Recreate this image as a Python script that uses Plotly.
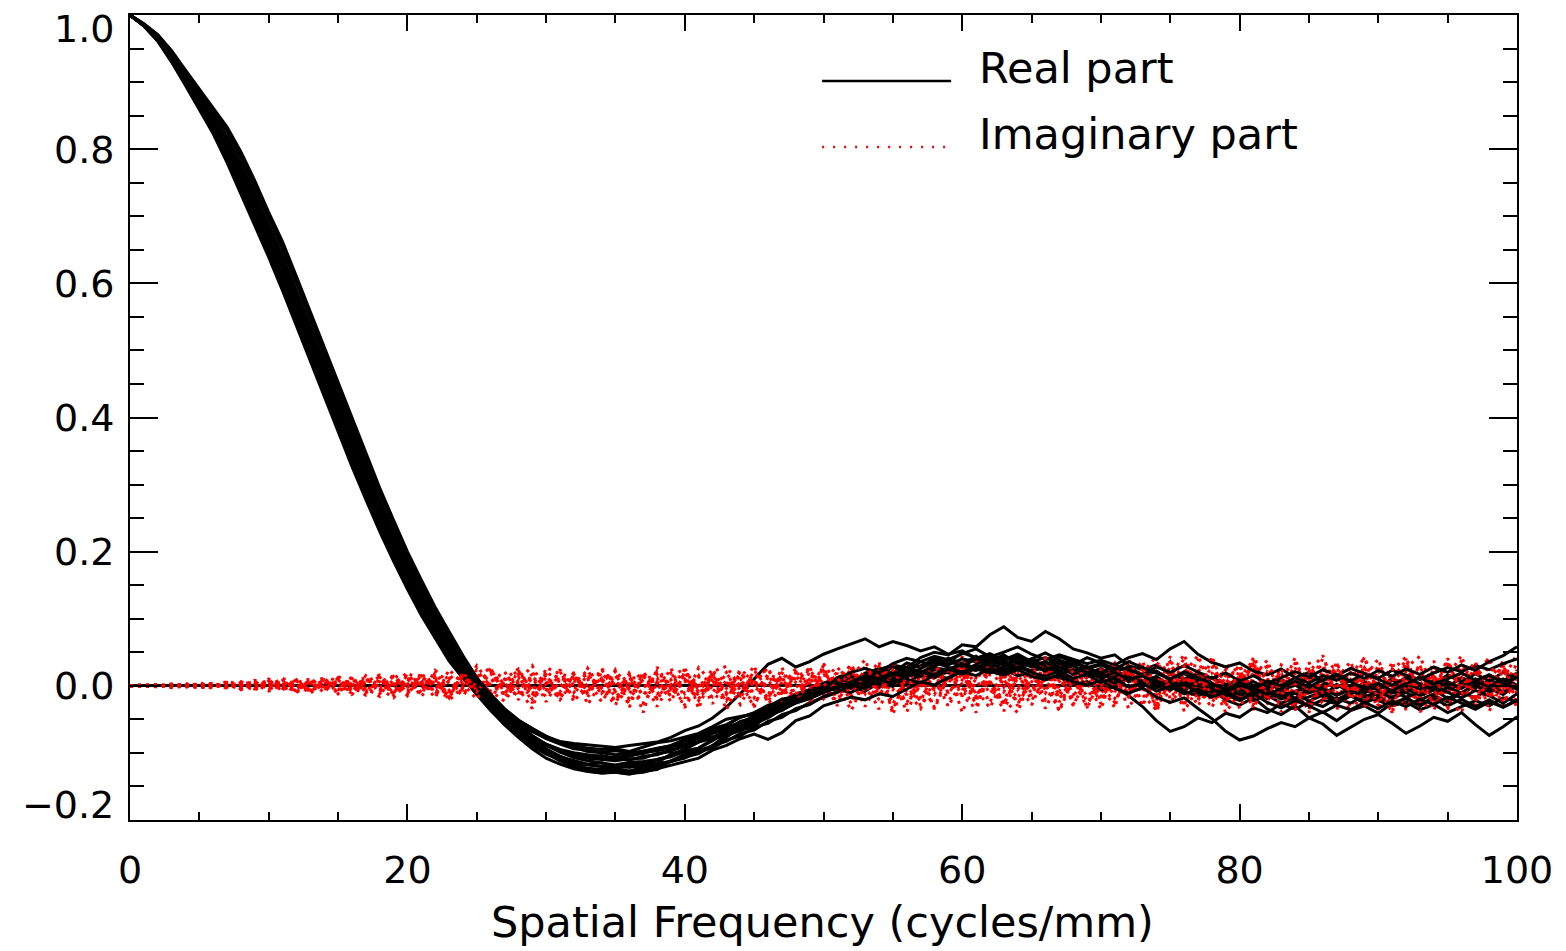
import plotly.graph_objects as go

# Spatial frequency axis (cycles/mm)
freq = list(range(0, 101))

# Real part of the MTF, several realisations
real_1 = [1.000,0.984,0.961,0.930,0.895,0.860,0.823,0.780,0.733,0.687,0.639,0.589,0.536,0.483,0.431,0.379,0.327,0.278,0.230,0.186,0.144,0.105,0.070,0.037,0.011,-0.012,-0.031,-0.046,-0.058,-0.068,-0.076,
          -0.083,-0.086,-0.088,-0.090,-0.092,-0.089,-0.087,-0.084,-0.077,-0.067,-0.060,
          -0.048,-0.032,-0.012,0.010,0.032,0.041,0.028,0.036,0.047,
          0.055,0.062,0.070,0.058,0.066,0.060,0.052,0.058,0.047,0.052,0.041,0.048,0.038,0.044,0.030,0.036,0.025,0.030,0.018,0.024,0.012,0.017,0.004,0.010,-0.004,0.002,-0.010,-0.004,-0.016,-0.010,-0.022,-0.014,-0.026,-0.018,-0.030,-0.021,-0.027,-0.015,-0.022,-0.010,-0.017,-0.006,-0.012,0.000,-0.008,0.004,-0.003,0.008,0.002,0.012]
real_2 = [1.000,0.984,0.962,0.932,0.899,0.865,0.829,0.788,0.742,0.696,0.649,0.599,0.547,0.494,0.441,0.389,0.338,0.287,0.240,0.194,0.152,0.113,0.076,0.044,0.013,-0.013,-0.037,-0.058,-0.075,-0.090,-0.102,
          -0.110,-0.116,-0.118,-0.120,-0.119,-0.122,-0.117,-0.115,-0.102,-0.095,-0.084,-0.078,-0.072,-0.058,-0.044,-0.038,-0.033,-0.018,-0.012,0.000,
          0.000,0.012,0.009,0.024,0.031,0.027,0.042,0.050,0.046,0.061,0.058,0.076,0.088,0.072,0.066,0.081,0.070,0.055,0.049,0.041,0.046,0.030,0.024,0.031,0.017,0.010,0.019,0.004,-0.006,0.002,-0.011,-0.004,-0.017,-0.009,-0.002,-0.013,-0.021,-0.010,0.001,-0.006,0.008,-0.002,-0.012,-0.005,0.006,-0.003,0.010,0.002,-0.009,-0.001]
real_3 = [1.000,0.984,0.963,0.934,0.901,0.868,0.833,0.794,0.749,0.703,0.656,0.607,0.555,0.502,0.449,0.397,0.345,0.295,0.247,0.201,0.158,0.119,0.082,0.048,0.019,-0.007,-0.029,-0.048,-0.063,-0.076,-0.087,
          -0.095,-0.100,-0.103,-0.105,-0.108,-0.105,-0.100,-0.097,-0.093,-0.080,-0.075,-0.069,-0.059,-0.047,-0.042,-0.036,-0.025,-0.013,-0.008,0.003,
          0.010,0.004,0.019,0.015,0.028,0.022,0.036,0.029,0.041,0.033,0.044,0.030,0.038,0.026,0.035,0.021,0.031,0.019,0.027,0.012,0.020,0.006,0.015,-0.002,0.009,-0.006,0.005,-0.011,0.000,-0.014,-0.003,-0.018,-0.006,-0.019,-0.005,-0.016,0.002,-0.010,0.006,-0.004,0.011,-0.001,0.014,0.003,0.016,0.005,0.018,0.007,0.020,0.011]
real_4 = [1.000,0.985,0.964,0.936,0.903,0.871,0.837,0.799,0.756,0.710,0.663,0.615,0.563,0.510,0.457,0.405,0.353,0.302,0.253,0.208,0.164,0.124,0.087,0.053,0.020,-0.008,-0.034,-0.058,-0.077,-0.094,-0.108,
          -0.117,-0.124,-0.128,-0.130,-0.129,-0.132,-0.127,-0.125,-0.112,-0.107,-0.101,-0.089,-0.074,-0.067,-0.060,-0.045,-0.031,-0.023,-0.015,-0.004,
          -0.006,-0.010,0.002,-0.003,0.009,0.004,0.016,0.012,0.021,0.017,0.026,0.020,0.024,0.015,0.019,0.009,0.013,0.001,0.006,-0.006,-0.002,-0.015,-0.031,-0.052,-0.068,-0.061,-0.048,-0.055,-0.041,-0.047,-0.033,-0.040,-0.027,-0.035,-0.024,-0.031,-0.019,-0.026,-0.014,-0.022,-0.030,-0.024,-0.036,-0.028,-0.040,-0.031,-0.022,-0.030,-0.018,-0.024]
real_5 = [1.000,0.985,0.965,0.937,0.905,0.873,0.840,0.803,0.760,0.715,0.668,0.620,0.568,0.515,0.462,0.410,0.358,0.307,0.258,0.212,0.168,0.128,0.090,0.056,0.025,-0.002,-0.025,-0.046,-0.063,-0.077,-0.089,
          -0.098,-0.104,-0.108,-0.110,-0.112,-0.109,-0.108,-0.101,-0.098,-0.087,-0.083,-0.071,-0.066,-0.053,-0.048,-0.035,-0.030,-0.017,-0.012,0.001,
          0.008,0.015,0.012,0.020,0.029,0.024,0.030,0.038,0.031,0.040,0.036,0.045,0.039,0.047,0.036,0.042,0.033,0.038,0.026,0.031,0.022,0.027,0.016,0.021,0.010,0.018,0.007,0.013,0.002,0.009,-0.004,0.005,-0.007,0.001,-0.011,-0.003,-0.014,-0.006,-0.017,-0.008,-0.019,-0.010,-0.021,-0.012,-0.002,-0.011,0.000,-0.009,0.003,-0.005]
real_6 = [1.000,0.985,0.966,0.938,0.907,0.875,0.843,0.807,0.765,0.720,0.673,0.625,0.573,0.520,0.467,0.415,0.363,0.312,0.263,0.216,0.172,0.132,0.093,0.059,0.029,0.003,-0.018,-0.037,-0.052,-0.064,-0.075,
          -0.084,-0.089,-0.093,-0.095,-0.094,-0.098,-0.092,-0.085,-0.082,-0.076,-0.071,-0.061,-0.050,-0.046,-0.042,-0.031,-0.020,-0.016,-0.006,-0.001,
          0.002,-0.004,0.006,0.012,0.007,0.018,0.014,0.024,0.019,0.028,0.023,0.031,0.025,0.030,0.022,0.027,0.018,0.023,0.013,0.019,0.007,0.013,0.001,0.008,-0.005,0.002,-0.010,-0.002,-0.013,-0.005,-0.016,-0.009,-0.020,-0.011,-0.023,-0.014,-0.025,-0.015,-0.026,-0.017,-0.028,-0.018,-0.029,-0.019,-0.030,-0.020,-0.031,-0.021,-0.032,-0.022]
real_7 = [1.000,0.986,0.967,0.940,0.909,0.878,0.847,0.813,0.771,0.727,0.680,0.633,0.581,0.528,0.475,0.423,0.371,0.319,0.270,0.223,0.178,0.138,0.099,0.064,0.030,0.001,-0.025,-0.049,-0.070,-0.086,-0.100,
          -0.111,-0.118,-0.123,-0.125,-0.124,-0.127,-0.122,-0.119,-0.112,-0.102,-0.096,-0.090,-0.077,-0.062,-0.056,-0.048,-0.035,-0.021,-0.014,-0.007,
          0.012,0.020,0.026,0.019,0.033,0.041,0.036,0.044,0.039,0.048,0.055,0.043,0.050,0.058,0.047,0.039,0.046,0.040,0.033,0.038,0.031,0.042,0.048,0.039,0.055,0.066,0.047,0.035,0.028,0.034,0.022,0.016,0.025,0.012,0.020,0.008,0.015,0.026,0.018,0.011,0.023,0.016,0.009,0.019,0.027,0.021,0.030,0.024,0.033,0.040]
real_8 = [1.000,0.986,0.968,0.942,0.911,0.881,0.851,0.818,0.778,0.734,0.687,0.641,0.589,0.536,0.483,0.431,0.378,0.327,0.276,0.230,0.184,0.143,0.104,0.068,0.037,0.009,-0.013,-0.034,-0.051,-0.064,-0.076,
          -0.086,-0.092,-0.098,-0.100,-0.103,-0.101,-0.097,-0.094,-0.091,-0.087,-0.077,-0.066,-0.061,-0.056,-0.045,-0.034,-0.029,-0.024,-0.013,-0.003,
          -0.004,0.006,0.001,0.011,0.018,0.013,0.022,0.017,0.025,0.019,0.028,0.021,0.016,0.024,0.014,0.009,0.017,0.006,0.001,0.008,-0.004,-0.011,-0.003,-0.017,-0.025,-0.018,-0.034,-0.049,-0.068,-0.081,-0.075,-0.064,-0.055,-0.061,-0.048,-0.057,-0.074,-0.062,-0.050,-0.043,-0.056,-0.071,-0.060,-0.047,-0.053,-0.040,-0.058,-0.074,-0.061,-0.046]
real_9 = [1.000,0.986,0.969,0.944,0.915,0.886,0.857,0.826,0.787,0.743,0.697,0.651,0.600,0.547,0.493,0.441,0.389,0.336,0.286,0.238,0.192,0.151,0.110,0.075,0.041,0.011,-0.014,-0.038,-0.058,-0.074,-0.088,
          -0.099,-0.107,-0.112,-0.115,-0.118,-0.114,-0.113,-0.110,-0.104,-0.099,-0.093,-0.082,-0.069,-0.063,-0.057,-0.044,-0.031,-0.025,-0.018,-0.007,
          -0.002,0.004,0.014,0.008,0.017,0.027,0.020,0.030,0.037,0.029,0.040,0.034,0.043,0.036,0.028,0.035,0.024,0.030,0.019,0.012,0.020,0.009,0.015,0.003,-0.006,0.002,-0.009,-0.017,-0.008,-0.020,-0.012,-0.025,-0.033,-0.022,-0.030,-0.040,-0.029,-0.036,-0.025,-0.034,-0.023,-0.031,-0.020,-0.028,-0.017,-0.026,-0.035,-0.024,-0.032,-0.021]
real_10 = [1.000,0.987,0.971,0.947,0.918,0.890,0.862,0.833,0.796,0.753,0.706,0.662,0.610,0.557,0.504,0.452,0.399,0.346,0.295,0.247,0.200,0.158,0.117,0.081,0.045,0.012,-0.015,-0.042,-0.065,-0.083,-0.100,
           -0.112,-0.121,-0.127,-0.130,-0.129,-0.131,-0.129,-0.124,-0.118,-0.114,-0.108,-0.096,-0.089,
           -0.079,-0.072,-0.080,-0.070,-0.052,-0.045,-0.030,
           -0.024,-0.017,-0.021,-0.012,-0.016,-0.005,0.006,0.001,0.012,0.021,0.015,0.026,0.019,0.028,0.020,0.014,0.022,0.011,0.017,0.005,0.011,-0.002,0.004,-0.008,-0.001,-0.012,-0.005,-0.016,-0.010,0.001,-0.006,0.007,0.000,0.012,0.004,0.015,0.008,0.019,0.011,0.023,0.014,0.025,0.017,0.028,0.020,0.031,0.023,0.036,0.045,0.058]
real_11 = [1.000,0.984,0.962,0.931,0.897,0.862,0.826,0.784,0.738,0.692,0.644,0.594,0.542,0.489,0.436,0.384,0.333,0.283,0.235,0.190,0.148,0.109,0.073,0.041,0.012,-0.012,-0.034,-0.052,-0.066,-0.079,-0.089,
           -0.097,-0.102,-0.106,-0.104,-0.108,-0.103,-0.101,-0.094,-0.089,-0.080,-0.075,-0.064,-0.058,-0.047,-0.040,-0.029,-0.024,-0.012,-0.006,0.004,
           0.011,0.003,0.018,0.026,0.019,0.034,0.028,0.041,0.035,0.049,0.042,0.037,0.046,0.033,0.040,0.027,0.034,0.022,0.029,0.016,0.024,0.011,0.002,0.009,-0.004,0.005,-0.013,-0.006,-0.021,-0.029,-0.018,-0.035,-0.043,-0.030,-0.048,-0.039,-0.052,-0.037,-0.030,-0.041,-0.026,-0.019,-0.031,-0.015,-0.024,-0.010,-0.018,-0.004,-0.013,0.002]
real_12 = [1.000,0.985,0.964,0.935,0.902,0.870,0.835,0.797,0.753,0.707,0.660,0.611,0.559,0.506,0.453,0.401,0.349,0.299,0.250,0.205,0.161,0.122,0.085,0.051,0.020,-0.008,-0.032,-0.053,-0.070,-0.085,-0.098,
           -0.106,-0.112,-0.117,-0.115,-0.121,-0.116,-0.118,-0.110,-0.106,-0.097,-0.093,-0.080,-0.074,-0.063,-0.055,-0.043,-0.037,-0.024,-0.016,-0.008,
           -0.001,0.007,0.003,0.014,0.010,0.022,0.016,0.027,0.023,0.034,0.026,0.038,0.031,0.042,0.035,0.029,0.037,0.024,0.018,0.026,0.013,0.020,0.007,0.014,0.000,0.008,-0.005,0.003,-0.009,-0.002,0.006,-0.004,0.009,0.001,0.013,0.005,-0.003,0.008,-0.007,0.004,-0.011,-0.002,-0.015,-0.006,-0.019,-0.010,0.001,-0.008,0.005,-0.003]
real_13 = [1.000,0.985,0.966,0.938,0.906,0.874,0.842,0.805,0.763,0.718,0.671,0.623,0.571,0.518,0.465,0.413,0.361,0.310,0.261,0.214,0.170,0.130,0.092,0.058,0.026,-0.002,-0.027,-0.050,-0.070,-0.086,-0.101,
           -0.111,-0.119,-0.124,-0.127,-0.125,-0.128,-0.124,-0.120,-0.113,-0.108,-0.098,-0.093,-0.081,-0.075,-0.062,-0.056,-0.043,-0.037,-0.025,-0.018,
           -0.010,-0.002,-0.008,0.004,-0.001,0.010,0.004,0.016,0.011,0.022,0.030,0.024,0.035,0.029,0.038,0.031,0.043,0.036,0.027,0.033,0.021,0.028,0.015,0.022,0.008,-0.001,0.007,-0.009,-0.003,-0.014,-0.007,-0.019,-0.012,-0.024,-0.016,-0.009,-0.021,-0.013,-0.004,-0.015,-0.007,0.003,-0.005,0.008,-0.001,0.012,0.004,0.016,0.007,0.019]
real_14 = [1.000,0.986,0.968,0.941,0.910,0.880,0.849,0.816,0.775,0.731,0.684,0.637,0.585,0.532,0.479,0.427,0.375,0.323,0.273,0.227,0.181,0.141,0.102,0.066,0.034,0.006,-0.017,-0.038,-0.055,-0.068,-0.079,
           -0.087,-0.094,-0.096,-0.099,-0.097,-0.100,-0.098,-0.093,-0.090,-0.082,-0.079,-0.070,-0.064,-0.055,-0.050,-0.040,-0.033,-0.025,-0.019,-0.010,
           -0.003,0.006,0.015,0.010,0.021,0.014,0.026,0.035,0.028,0.020,0.032,0.041,0.033,0.025,0.037,0.030,0.022,0.034,0.027,0.019,0.031,0.024,0.016,0.028,0.020,0.030,0.021,0.011,0.019,0.007,0.015,0.004,0.012,0.021,0.013,0.024,0.016,0.007,0.018,0.010,0.001,0.012,0.003,-0.006,0.005,-0.004,0.007,-0.002,0.010,0.001]
real_15 = [1.000,0.987,0.970,0.946,0.917,0.888,0.860,0.830,0.792,0.748,0.702,0.657,0.605,0.552,0.499,0.447,0.394,0.341,0.291,0.243,0.196,0.155,0.114,0.078,0.043,0.012,-0.015,-0.040,-0.062,-0.079,-0.094,
           -0.105,-0.113,-0.118,-0.121,-0.123,-0.120,-0.122,-0.116,-0.113,-0.104,-0.100,-0.089,-0.083,-0.071,-0.066,-0.053,-0.047,-0.034,-0.028,-0.016,
           -0.009,0.001,-0.004,0.009,0.003,0.015,0.022,0.013,0.025,0.032,0.024,0.036,0.044,0.033,0.040,0.049,0.038,0.031,0.042,0.034,0.025,0.036,0.027,0.018,0.010,0.021,0.012,0.004,-0.006,0.005,-0.003,-0.013,-0.004,0.007,-0.002,0.009,0.017,0.006,-0.005,0.004,-0.008,0.003,0.012,0.002,0.010,0.019,0.008,0.016,0.004,0.013]
real_16 = [1.000,0.986,0.967,0.939,0.908,0.877,0.845,0.810,0.768,0.724,0.677,0.629,0.577,0.524,0.471,0.419,0.367,0.316,0.267,0.220,0.175,0.135,0.096,0.062,0.030,0.002,-0.022,-0.043,-0.061,-0.075,-0.087,
           -0.096,-0.101,-0.106,-0.109,-0.107,-0.111,-0.105,-0.103,-0.096,-0.091,-0.084,-0.076,-0.069,-0.058,-0.053,-0.041,-0.036,-0.026,-0.019,-0.010,
           0.004,-0.002,0.009,0.017,0.011,0.023,0.018,0.012,0.024,0.031,0.025,0.019,0.029,0.038,0.030,0.022,0.028,0.017,0.023,0.011,0.004,0.013,0.006,-0.003,0.005,-0.008,-0.015,-0.006,-0.013,-0.022,-0.012,-0.005,-0.016,-0.009,0.002,-0.007,-0.014,-0.004,-0.011,0.000,-0.008,-0.017,-0.009,-0.001,-0.010,-0.018,-0.007,-0.015,-0.026,-0.012]

# Imaginary part, several realisations
imag_1 = [0,0.001,-0.001,0.002,-0.002,0.003,-0.002,0.004,-0.003,0.005,-0.004,0.006,-0.005,0.008,-0.006,0.010,-0.007,0.012,-0.006,0.014,-0.008,0.015,-0.004,0.011,-0.012,0.009,0.018,-0.006,0.013,-0.015,0.004,-0.021,0.008,-0.009,0.012,-0.017,0.003,-0.026,0.006,-0.011,0.010,-0.008,0.014,-0.004,0.017,0.002,-0.013,0.019,0.005,-0.009,0.016,0.008,-0.014,0.022,0.011,-0.006,0.025,-0.018,0.013,-0.031,0.009,0.024,-0.012,0.017,-0.027,0.006,0.021,-0.015,0.012,-0.004,0.027,-0.019,0.008,-0.030,0.015,0.036,-0.011,0.020,-0.025,0.004,0.031,-0.016,0.012,-0.033,0.007,0.024,-0.020,0.015,-0.008,0.029,-0.024,0.010,0.038,-0.013,0.018,-0.029,0.006,0.033,-0.017,0.021,-0.010]
imag_2 = [0,-0.001,0.001,-0.002,0.002,-0.003,0.003,-0.004,0.004,-0.004,0.005,-0.006,0.007,-0.007,0.009,-0.010,0.011,-0.009,0.013,-0.011,0.016,-0.010,0.019,-0.007,0.014,-0.013,0.006,0.021,-0.010,0.011,-0.017,0.014,-0.005,0.010,-0.024,0.007,-0.012,0.016,-0.019,0.009,-0.033,0.005,-0.010,0.018,-0.006,0.013,0.024,-0.009,0.016,-0.015,0.011,0.028,-0.004,0.018,-0.021,0.014,0.031,0.007,-0.013,0.026,-0.040,0.012,0.029,-0.009,0.019,-0.022,0.010,0.034,-0.014,0.017,-0.027,0.022,-0.006,0.030,-0.018,0.011,0.040,-0.022,0.016,-0.031,0.009,0.027,-0.012,0.020,-0.036,0.013,0.032,-0.018,0.009,-0.027,0.022,-0.005,0.017,-0.030,0.028,0.007,-0.021,0.016,0.042,-0.014,0.024]
imag_3 = [0,0.000,0.002,-0.001,0.003,-0.002,0.004,-0.003,0.005,-0.005,0.007,-0.004,0.009,-0.008,0.011,-0.006,0.013,-0.011,0.010,-0.014,0.012,-0.016,0.008,-0.012,0.022,-0.003,-0.019,0.010,0.025,-0.008,0.016,-0.012,0.020,-0.028,0.005,0.015,-0.020,0.009,0.017,-0.016,0.008,-0.022,0.011,-0.013,0.021,-0.018,0.007,-0.011,0.020,0.009,-0.019,0.014,0.030,-0.008,0.023,-0.027,0.010,0.020,-0.035,0.015,0.030,-0.016,0.008,-0.038,0.013,0.028,-0.021,0.006,0.025,-0.033,0.010,0.034,-0.015,0.019,0.044,-0.020,0.013,-0.009,0.030,-0.024,0.016,-0.036,0.021,0.005,-0.019,0.035,-0.010,0.024,-0.032,0.012,0.040,-0.022,0.008,0.030,-0.026,0.015,0.045,-0.018,0.012,0.032,-0.027]
imag_4 = [0,0.001,0.000,0.001,-0.001,0.002,-0.003,0.003,-0.004,0.006,-0.006,0.008,-0.008,0.006,-0.010,0.012,-0.009,0.015,-0.012,0.009,-0.015,0.020,-0.011,0.017,-0.006,0.024,-0.014,0.013,-0.021,0.019,0.006,-0.009,0.015,-0.017,0.020,-0.008,0.013,-0.014,0.004,0.019,-0.012,0.015,-0.027,0.009,-0.015,0.023,-0.004,0.012,-0.024,0.021,-0.007,-0.022,0.017,-0.012,0.029,0.003,-0.026,0.016,0.034,-0.011,0.020,-0.030,0.017,0.032,-0.006,0.024,-0.034,0.011,-0.019,0.030,-0.012,0.017,-0.034,0.006,0.026,-0.028,0.019,0.045,-0.006,0.024,-0.034,0.014,0.038,-0.021,0.027,-0.012,0.019,-0.037,0.030,0.002,-0.016,0.036,-0.028,0.013,-0.008,0.041,-0.015,0.011,-0.031,0.026,0.008]
imag_5 = [0,-0.001,0.001,0.000,0.002,0.001,0.003,-0.002,0.006,-0.002,0.004,-0.007,0.005,0.010,-0.004,0.008,-0.013,0.006,0.016,-0.005,0.010,-0.013,0.023,0.004,-0.015,0.012,0.027,-0.017,0.004,0.017,-0.024,0.010,0.001,0.018,-0.013,0.024,-0.006,0.008,-0.031,0.003,0.014,-0.015,0.020,-0.036,0.010,-0.011,0.017,-0.021,0.012,0.026,-0.012,0.019,-0.027,0.031,-0.015,0.022,0.002,-0.023,0.021,0.037,-0.017,0.010,-0.025,0.024,0.003,-0.029,0.018,-0.008,0.032,0.011,-0.021,0.005,0.029,-0.013,-0.036,0.022,-0.004,0.012,0.038,-0.014,0.023,-0.009,-0.026,0.031,0.016,-0.031,0.008,0.028,-0.016,0.020,-0.038,0.025,0.003,-0.019,0.037,-0.011,0.022,-0.034,0.019,-0.004,0.033]
imag_6 = [0,0.001,-0.002,0.003,-0.001,0.004,0.000,0.005,-0.005,0.003,-0.008,0.002,-0.003,0.004,0.012,-0.012,0.005,-0.004,-0.016,0.018,-0.002,0.008,-0.018,0.024,0.003,-0.020,0.010,-0.002,0.017,-0.026,0.022,0.003,-0.016,0.026,-0.004,-0.029,0.019,-0.003,0.012,-0.024,0.021,0.002,-0.017,0.006,-0.028,0.008,-0.020,0.027,-0.014,0.004,0.025,-0.010,0.009,-0.031,0.006,0.035,-0.014,0.028,-0.008,0.007,0.044,-0.006,-0.033,0.011,0.038,-0.015,0.029,-0.024,0.003,0.021,0.040,-0.009,0.019,-0.026,0.012,-0.009,-0.030,0.027,-0.018,0.034,0.006,0.031,-0.020,-0.007,0.042,-0.025,-0.003,0.011,0.036,-0.020,0.014,-0.030,0.027,0.044,-0.006,-0.036,0.029,0.004,-0.022,0.039,-0.013]
imag_7 = [0,0.000,-0.001,0.000,0.001,-0.004,0.002,0.000,0.002,-0.007,0.010,0.001,-0.010,0.002,0.006,0.003,-0.002,-0.014,0.004,0.002,0.020,0.004,-0.008,-0.017,0.008,0.005,-0.008,-0.023,0.006,0.030,-0.010,0.024,-0.024,0.004,0.009,0.021,-0.032,0.021,-0.007,0.026,-0.019,0.027,0.004,-0.023,0.007,-0.030,0.013,0.003,-0.031,0.015,0.006,-0.030,0.024,0.004,-0.035,0.011,-0.039,0.004,0.019,-0.021,-0.007,0.037,0.005,-0.022,-0.040,0.015,-0.011,0.023,-0.028,0.008,-0.035,0.026,0.012,0.037,-0.022,0.030,0.008,-0.030,0.005,-0.040,-0.010,0.019,0.029,-0.014,-0.030,0.006,0.040,0.004,-0.039,-0.008,0.030,0.012,-0.036,0.003,0.015,-0.021,-0.040,0.024,0.011,-0.028,0.016]
imag_8 = [0,0.001,0.002,-0.003,0.000,0.002,-0.004,0.007,0.001,0.008,0.000,0.011,0.002,-0.011,0.003,0.014,0.001,0.009,-0.004,-0.018,0.005,0.002,0.013,-0.022,-0.002,0.030,0.001,-0.012,-0.004,-0.034,0.027,0.018,0.012,-0.007,0.026,0.000,0.017,-0.040,0.028,-0.005,0.025,-0.034,0.021,0.029,-0.002,0.030,-0.027,-0.002,0.026,-0.030,0.033,0.002,-0.037,0.009,0.036,-0.043,0.017,-0.030,-0.002,0.029,0.002,-0.040,0.040,-0.002,0.026,0.040,0.002,-0.037,0.018,-0.016,0.003,-0.033,0.040,-0.005,-0.016,0.044,-0.038,-0.003,-0.033,0.015,-0.022,0.043,0.003,-0.039,0.003,-0.040,0.026,-0.022,0.017,0.041,0.001,-0.040,0.040,-0.039,-0.017,0.033,-0.006,0.028,-0.038,0.008,0.048]
imag_9 = [0,0.000,0.001,-0.001,0.002,-0.003,0.001,-0.002,0.005,-0.001,0.007,-0.005,0.003,-0.009,0.007,-0.003,0.010,-0.008,0.006,-0.012,0.017,-0.004,0.009,-0.015,0.013,-0.009,0.020,0.002,-0.016,0.014,-0.006,0.021,-0.010,0.016,-0.002,-0.022,0.012,-0.015,0.022,-0.004,0.007,-0.020,0.016,-0.010,0.024,0.008,-0.018,0.014,-0.025,0.010,-0.003,0.021,-0.016,0.027,-0.008,0.016,-0.028,0.005,0.033,-0.012,0.019,-0.024,0.036,0.009,-0.019,0.021,-0.006,0.031,-0.030,0.014,0.002,-0.025,0.022,-0.010,0.035,0.017,-0.027,0.009,-0.019,0.028,-0.008,0.036,-0.023,0.010,-0.030,0.020,0.045,-0.011,0.018,-0.034,0.026,-0.003,0.032,-0.026,0.009,-0.014,0.038,-0.021,0.006,0.030,-0.035]
imag_10 = [0,-0.001,0.000,0.002,-0.002,0.001,0.004,-0.003,0.002,0.006,-0.005,0.001,0.008,-0.006,-0.001,0.011,-0.007,0.004,0.013,-0.010,0.002,0.015,-0.012,0.007,-0.003,0.019,-0.014,0.006,0.023,-0.011,0.003,-0.019,0.017,-0.008,0.011,-0.025,0.006,0.019,-0.012,0.002,-0.029,0.013,-0.005,0.020,-0.017,0.009,-0.024,0.018,0.001,-0.019,0.022,-0.009,0.027,-0.021,0.012,0.034,-0.015,0.004,-0.032,0.017,0.028,-0.013,0.006,-0.026,0.033,-0.004,0.019,-0.038,0.010,0.025,-0.017,0.030,-0.008,0.015,-0.031,0.022,-0.002,0.040,-0.020,0.013,0.029,-0.033,0.008,-0.015,0.034,0.004,-0.027,0.019,-0.010,0.043,-0.024,0.014,-0.006,0.031,-0.037,0.018,0.002,-0.025,0.035,-0.011,0.021]
imag_11 = [0,0.001,-0.001,0.000,0.003,-0.001,-0.002,0.005,-0.004,0.002,0.008,-0.003,-0.007,0.009,0.001,-0.010,0.006,0.012,-0.009,0.003,-0.013,0.011,0.004,-0.017,0.015,-0.001,0.026,-0.011,0.008,-0.020,0.013,-0.004,0.018,-0.013,0.024,-0.009,-0.026,0.014,0.003,-0.015,0.019,-0.006,0.025,-0.012,0.005,-0.032,0.017,0.009,-0.014,0.028,-0.019,0.006,0.032,-0.010,0.019,-0.036,0.014,0.027,-0.006,0.024,-0.016,0.038,0.002,-0.028,0.016,-0.011,0.036,-0.020,0.012,-0.033,0.024,0.007,-0.016,0.032,-0.039,0.013,0.047,-0.012,0.020,-0.027,0.011,0.039,-0.018,0.024,-0.006,-0.035,0.016,0.034,-0.020,0.008,-0.030,0.023,0.043,-0.014,0.017,-0.032,0.010,0.036,-0.019,0.025,-0.008]
imag_12 = [0,0.000,0.001,0.001,-0.002,0.003,-0.001,0.002,-0.006,0.004,-0.002,0.007,-0.009,0.005,-0.004,0.009,-0.012,0.010,-0.003,0.014,-0.011,0.005,0.012,-0.018,0.020,-0.007,0.011,-0.014,0.022,-0.005,0.017,-0.018,0.004,0.023,-0.011,0.016,-0.003,0.019,-0.021,0.013,0.026,-0.012,0.008,-0.022,0.018,0.003,0.027,-0.016,0.021,-0.005,0.030,-0.024,0.012,0.039,-0.016,0.023,-0.008,-0.034,0.018,0.004,0.031,-0.019,0.025,0.012,-0.030,0.017,0.041,-0.005,0.023,-0.024,-0.004,0.033,-0.018,0.026,-0.035,0.008,0.029,-0.022,0.044,-0.009,0.016,-0.028,0.030,0.005,-0.037,0.021,-0.011,0.035,-0.016,0.027,-0.003,-0.040,0.022,0.009,-0.028,0.037,-0.012,0.019,0.041,-0.026,0.012]

real_curves = [real_1, real_11, real_2, real_3, real_12, real_4, real_5, real_13, real_6,
               real_16, real_7, real_14, real_8, real_9, real_15, real_10]
imag_curves = [imag_1, imag_2, imag_3, imag_4, imag_5, imag_6, imag_7, imag_8,
               imag_9, imag_10, imag_11, imag_12]

y_tick_vals = [-0.2, 0.0, 0.2, 0.4, 0.6, 0.8, 1.0]
y_tick_text = ["\u22120.2", "0.0", "0.2", "0.4", "0.6", "0.8", "1.0"]
x_tick_vals = [0, 20, 40, 60, 80, 100]
x_tick_text = ["0", "20", "40", "60", "80", "100"]

FONT = "DejaVu Sans"

fig = go.Figure()
n = max(len(real_curves), len(imag_curves))
for k in range(n):
    if k < len(real_curves):
        yv = real_curves[k]
        fig.add_trace(go.Scatter(x=freq[:len(yv)], y=yv, mode="lines",
                                 line=dict(color="black", width=3),
                                 showlegend=False, hoverinfo="skip"))
    if k < len(imag_curves):
        yv = imag_curves[k]
        fig.add_trace(go.Scatter(x=freq[:len(yv)], y=yv, mode="lines",
                                 line=dict(color="#ff0000", width=3, dash="3px,5px"),
                                 showlegend=False, hoverinfo="skip"))

axis_common = dict(showline=True, linecolor="black", linewidth=2, mirror="allticks",
                   ticks="inside", tickcolor="black", tickwidth=2, showgrid=False,
                   tickfont=dict(family=FONT, size=38, color="black"))

# end labels of the y axis are nudged inward (drawn as annotations below)
y_axis_text = ["" if v in (-0.2, 1.0) else t for v, t in zip(y_tick_vals, y_tick_text)]

fig.update_xaxes(range=[0, 100], tickmode="array", tickvals=x_tick_vals, ticktext=x_tick_text,
                 ticklen=16, zeroline=False, ticklabelstandoff=15,
                 minor=dict(tickmode="linear", tick0=0, dtick=5, ticklen=8, tickwidth=2,
                            tickcolor="black", ticks="inside", showgrid=False),
                 **axis_common)
fig.update_yaxes(range=[-0.2002, 1.0002], tickmode="array", tickvals=y_tick_vals, ticktext=y_axis_text,
                 ticklen=28, zeroline=True, zerolinecolor="black", zerolinewidth=2.5,
                 ticklabelstandoff=6,
                 minor=dict(tickmode="linear", tick0=0, dtick=0.05, ticklen=14, tickwidth=2,
                            tickcolor="black", ticks="inside", showgrid=False),
                 **axis_common)

for v, t in zip(y_tick_vals, y_tick_text):
    if v == 1.0:
        fig.add_annotation(text=t, xref="paper", yref="y", x=0, y=v, xanchor="right",
                           yanchor="middle", xshift=-14, yshift=-14, showarrow=False,
                           font=dict(family=FONT, size=38, color="black"))
    elif v == -0.2:
        fig.add_annotation(text=t, xref="paper", yref="y", x=0, y=v, xanchor="right",
                           yanchor="middle", xshift=-14, yshift=15, showarrow=False,
                           font=dict(family=FONT, size=38, color="black"))

# legend drawn by hand (long sample lines as in the original)
fig.add_shape(type="line", xref="paper", yref="paper", x0=0.499, x1=0.592, y0=0.918, y1=0.918,
              line=dict(color="black", width=2.5))
fig.add_shape(type="line", xref="paper", yref="paper", x0=0.499, x1=0.592, y0=0.836, y1=0.836,
              line=dict(color="#ff0000", width=2.5, dash="2px,9px"))
fig.add_annotation(text="Real part", xref="paper", yref="paper", x=0.611, y=0.934,
                   xanchor="left", yanchor="middle", showarrow=False,
                   font=dict(family=FONT, size=43, color="black"))
fig.add_annotation(text="Imaginary part", xref="paper", yref="paper", x=0.611, y=0.852,
                   xanchor="left", yanchor="middle", showarrow=False,
                   font=dict(family=FONT, size=43, color="black"))
fig.add_annotation(text="Spatial Frequency (cycles/mm)", xref="paper", yref="paper",
                   x=0.499, y=-0.127, xanchor="center", yanchor="middle", showarrow=False,
                   font=dict(family=FONT, size=43, color="black"))

fig.update_layout(width=1566, height=951, autosize=False,
                  margin=dict(l=130, r=49, t=15, b=131),
                  paper_bgcolor="white", plot_bgcolor="white",
                  showlegend=False, hovermode=False)

fig.write_html("out.html", config={"displayModeBar": False, "responsive": False})
